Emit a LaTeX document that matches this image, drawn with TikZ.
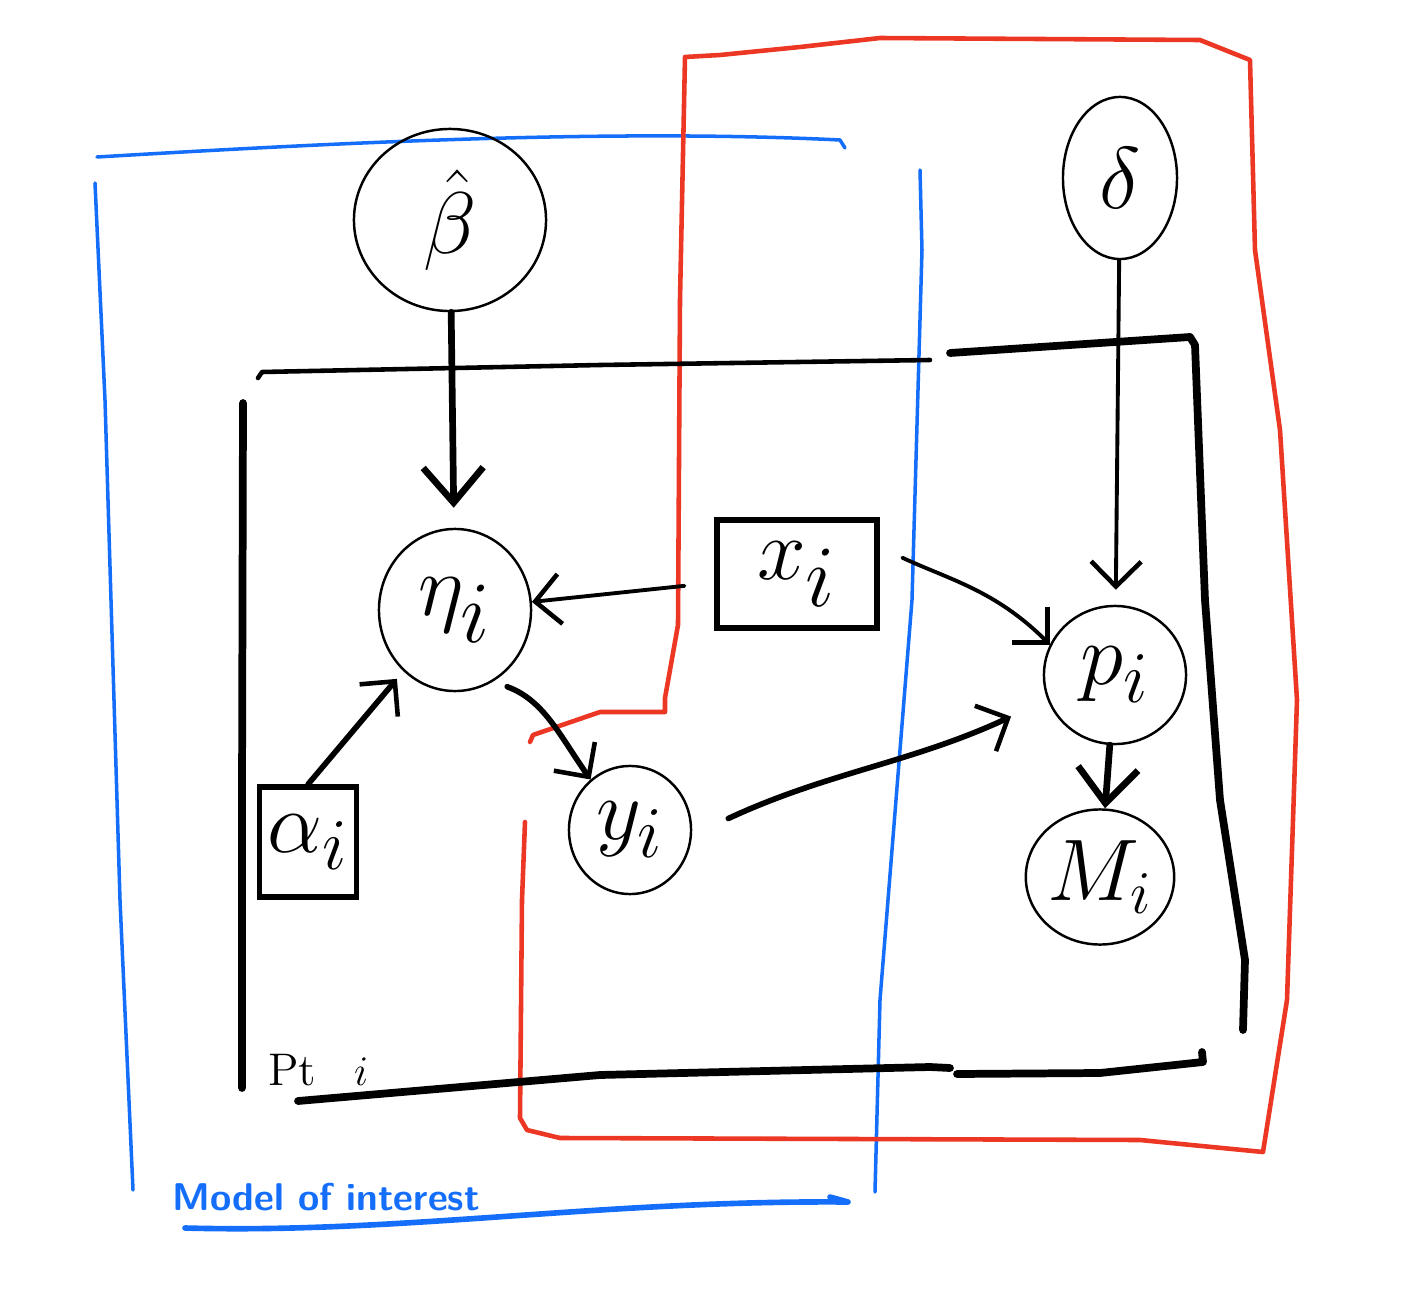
\documentclass[tikz,border=0pt]{standalone}
\usetikzlibrary{shapes.geometric,arrows.meta}
\definecolor{inkblue}{RGB}{20,110,250}
\definecolor{inkred}{RGB}{235,55,35}
\begin{document}
\begin{tikzpicture}[x=0.01cm,y=-0.01cm,
  var/.style={ellipse,draw,line width=0.7pt,inner sep=0pt},
  obs/.style={rectangle,draw,line width=1.5pt,inner sep=0pt},
  thickarrow/.style={line width=1.9pt,line cap=round,-{Straight Barb[length=3.5mm,width=6mm,line width=1.9pt]}},
  thinarrow/.style={line width=1.1pt,line cap=round,-{Straight Barb[length=2.5mm,width=5mm,line width=1.3pt]}},
  plate/.style={line width=1.3pt,line cap=round,line join=round},
  heavyplate/.style={line width=2.2pt,line cap=round,line join=round},
  blueplate/.style={inkblue,line width=1pt,line cap=round,line join=round},
  redbox/.style={inkred,line width=1.3pt,line join=round,line cap=round}]
\useasboundingbox (0,0) rectangle (1414,1306);

% blue plate: model of interest
\draw[blueplate] (97,157) .. controls (300,145) and (600,128) .. (840,140) -- (845,148);
\draw[blueplate] (95,183) -- (105,400) -- (120,900) -- (133,1190);
\draw[blueplate] (920,170) -- (922,250) -- (912,600) -- (880,1000) -- (875,1192);
\draw[blueplate,line width=1.6pt] (185,1228) .. controls (400,1234) and (600,1200) .. (848,1202) -- (830,1197);
\node[inkblue,font=\sffamily\bfseries\fontsize{11}{13}\selectfont] (moi) at (326,1197) {Model of interest};

% red box
\draw[redbox] (530,742) -- (533,735) -- (600,712) -- (665,712) -- (665,698) -- (678,625)
  -- (680,300) -- (685,57) -- (720,55) -- (800,47) -- (880,38) -- (1200,40) -- (1250,60)
  -- (1255,250) -- (1280,430) -- (1297,700) -- (1287,1000) -- (1263,1152) -- (1140,1140)
  -- (560,1138) -- (527,1130) -- (520,1118) -- (522,900) -- (525,822);

% black plate
\draw[plate] (258,378) -- (262,372) -- (600,365) -- (930,360);
\draw[heavyplate] (950,353) -- (1100,343) -- (1190,337) -- (1195,345) -- (1205,600) -- (1220,800) -- (1245,960) -- (1243,1030);
\draw[heavyplate] (243,403) -- (242,800) -- (242,1088);
\draw[heavyplate] (298,1101) -- (600,1075) -- (930,1067) -- (950,1068);
\draw[heavyplate] (957,1074) -- (1100,1073) -- (1203,1062) -- (1202,1052);
\node[font=\fontsize{13}{15}\selectfont,anchor=west] (pt) at (256,1070) {Pt \enspace $i$};

% nodes
\node[var,minimum width=1.92cm,minimum height=1.82cm] (beta) at (450,220) {\fontsize{44}{50}\selectfont$\hat{\beta}$};
\node[var,minimum width=1.14cm,minimum height=1.62cm] (delta) at (1120,178) {\fontsize{44}{50}\selectfont$\delta$};
\node[var,minimum width=1.52cm,minimum height=1.62cm] (eta) at (455,610) {\fontsize{36}{40}\selectfont$\eta_i$};
\node[obs,minimum width=1.6cm,minimum height=1.08cm] (x) at (797,574) {\fontsize{36}{40}\selectfont$x_i$};
\node[obs,minimum width=0.97cm,minimum height=1.1cm] (alpha) at (308,842) {\fontsize{28}{32}\selectfont$\alpha_i$};
\node[var,minimum width=1.22cm,minimum height=1.28cm] (y) at (630,830) {\fontsize{30}{34}\selectfont$y_i$};
\node[var,minimum width=1.42cm,minimum height=1.38cm] (p) at (1115,675) {\fontsize{30}{34}\selectfont$p_i$};
\node[var,minimum width=1.3cm,minimum height=1.35cm] (M) at (1100,877) {\fontsize{24}{28}\selectfont$M_i$};

% connectors
\draw[thickarrow,shorten >=0.2cm] (beta) -- (eta);
\draw[thinarrow,shorten >=0.15cm] (delta) -- (p);
\draw[thinarrow,shorten <=0.3cm] (x) -- (eta);
\draw[thinarrow,shorten <=0.25cm] (x.18) to[out=-25,in=135] (p.155);
\draw[thinarrow,line width=1.6pt,shorten >=0.1cm] (alpha.north) -- (eta);
\draw[thinarrow,line width=1.6pt,shorten <=0.15cm] (eta.-62) to[out=-20,in=125] (y.128);
\draw[thinarrow,line width=1.6pt,shorten <=0.4cm,shorten >=0.4cm] (y.-5) to[out=25,in=205] (p.200);
\draw[thickarrow] (p) -- (M);
\end{tikzpicture}
\end{document}
